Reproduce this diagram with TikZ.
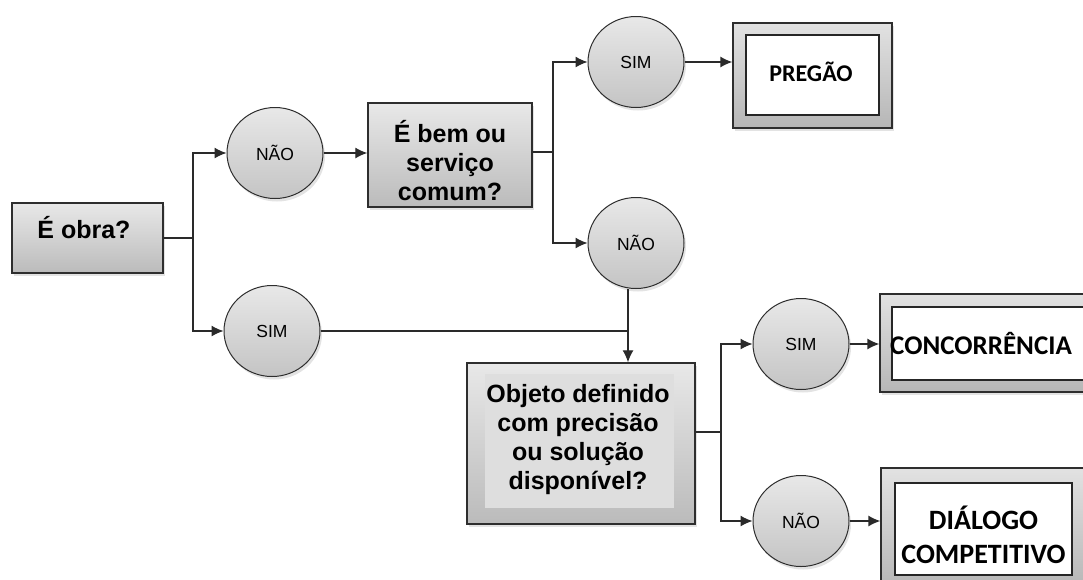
\documentclass[tikz,border=0pt]{standalone}
\usepackage{fontspec}
\setmainfont{Liberation Sans}
\newfontfamily\calib{Carlito}
\usetikzlibrary{shapes.geometric,arrows.meta,shadows}
\definecolor{boxtop}{HTML}{E8E8E8}
\definecolor{boxbot}{HTML}{BBBBBB}
\definecolor{circtop}{HTML}{E8E8E8}
\definecolor{circbot}{HTML}{C4C4C4}
\definecolor{outtop}{HTML}{E2E2E2}
\definecolor{outbot}{HTML}{B6B6B6}
\definecolor{edgec}{HTML}{2E2E2E}
\definecolor{wirec}{HTML}{2A2A2A}
\definecolor{objin}{HTML}{DEDEDE}
\begin{document}
\begin{tikzpicture}[x=1pt,y=-1pt,
  shad/.style={drop shadow={opacity=0.22, shadow xshift=2pt, shadow yshift=-3pt}},
  qbox/.style={rectangle, draw=edgec, line width=1.4pt, top color=boxtop, bottom color=boxbot, shad, inner sep=0pt},
  qtext/.style={font=\bfseries\fontsize{25}{29}\selectfont, align=center, inner sep=0pt},
  dec/.style={ellipse, draw=edgec, line width=1pt, minimum width=96pt, minimum height=91pt, top color=circtop, bottom color=circbot, shad, inner sep=0pt, font=\fontsize{17.5}{20}\selectfont},
  outerbox/.style={rectangle, draw=edgec, line width=1.3pt, top color=outtop, bottom color=outbot, shad, inner sep=0pt},
  innerbox/.style={rectangle, draw=black!85, line width=1.7pt, fill=white, inner sep=0pt},
  ftext/.style={font=\calib\bfseries\fontsize{#1}{34}\selectfont, align=center, inner sep=0pt},
  wire/.style={draw=wirec, line width=1.3pt},
  arr/.style={wire, -{Latex[length=12pt,width=11pt]}}
]
\fill[white] (0,0) rectangle (1083,579);
\useasboundingbox (0,0) rectangle (1083,579);
\clip (0,0) rectangle (1083,579);

% decision boxes
\node[qbox, minimum width=151pt, minimum height=70pt] (obra) at (87.5,238) {};
\node[qtext] (obrat) at (84,228) {É obra?};
\node[qbox, minimum width=164pt, minimum height=104pt] (bem) at (450,155) {};
\node[qtext] (bemt) at (450,161) {É bem ou\\serviço\\comum?};
\node[qbox, minimum width=228pt, minimum height=161pt] (obj) at (581,443.5) {};
\node[rectangle, fill=objin, minimum width=189pt, minimum height=134pt, inner sep=0pt] (objin) at (579.5,441) {};
\node[qtext] (objt) at (578,440) {Objeto definido\\com precisão\\ou solução\\disponível?};

% circles
\node[dec] (nao1) at (275,153) {NÃO};
\node[dec] (sim1) at (272,331) {SIM};
\node[dec] (sim2) at (636,62) {SIM};
\node[dec] (nao2) at (636,243) {NÃO};
\node[dec] (sim3) at (801,344) {SIM};
\node[dec] (nao3) at (801,521) {NÃO};

% final boxes
\node[outerbox, minimum width=159pt, minimum height=105pt] (pregO) at (812.5,75.5) {};
\node[innerbox, minimum width=133pt, minimum height=80pt] (preg) at (812.5,75) {};
\node[ftext=24] (pregt) at (811,72) {PREGÃO};
\node[outerbox, minimum width=220pt, minimum height=98pt] (concO) at (990,343) {};
\node[innerbox, minimum width=196pt, minimum height=73pt] (conc) at (990,343.5) {};
\node[ftext=27] (conct) at (981,343) {CONCORRÊNCIA};
\node[outerbox, minimum width=205pt, minimum height=122pt] (dialO) at (983.5,529) {};
\node[innerbox, minimum width=177pt, minimum height=92pt] (dial) at (983.5,529) {};
\node[ftext=28] (dialt) at (983.5,535) {DIÁLOGO\\COMPETITIVO};

% connectors
\coordinate (b1) at (193,238);
\coordinate (b2) at (553,152);
\coordinate (j) at (628,331);
\coordinate (b3) at (721,432);
\draw[wire] (obra.east) -- (b1);
\draw[arr] (b1) |- (nao1.west);
\draw[arr] (b1) |- (sim1.west);
\draw[arr] (nao1.east) -- (nao1.east -| bem.west);
\draw[wire] (bem.east |- b2) -- (b2);
\draw[arr] (b2) |- (sim2.west);
\draw[arr] (b2) |- (nao2.west);
\draw[arr] (sim2.east) -- (sim2.east -| pregO.west);
\draw[wire] (sim1.east) -- (j);
\draw[arr] (nao2.south -| j) -- (j |- obj.north);
\draw[wire] (obj.east |- b3) -- (b3);
\draw[arr] (b3) |- (sim3.west);
\draw[arr] (b3) |- (nao3.west);
\draw[arr] (sim3.east) -- (sim3.east -| concO.west);
\draw[arr] (nao3.east) -- (nao3.east -| dialO.west);
\end{tikzpicture}
\end{document}
